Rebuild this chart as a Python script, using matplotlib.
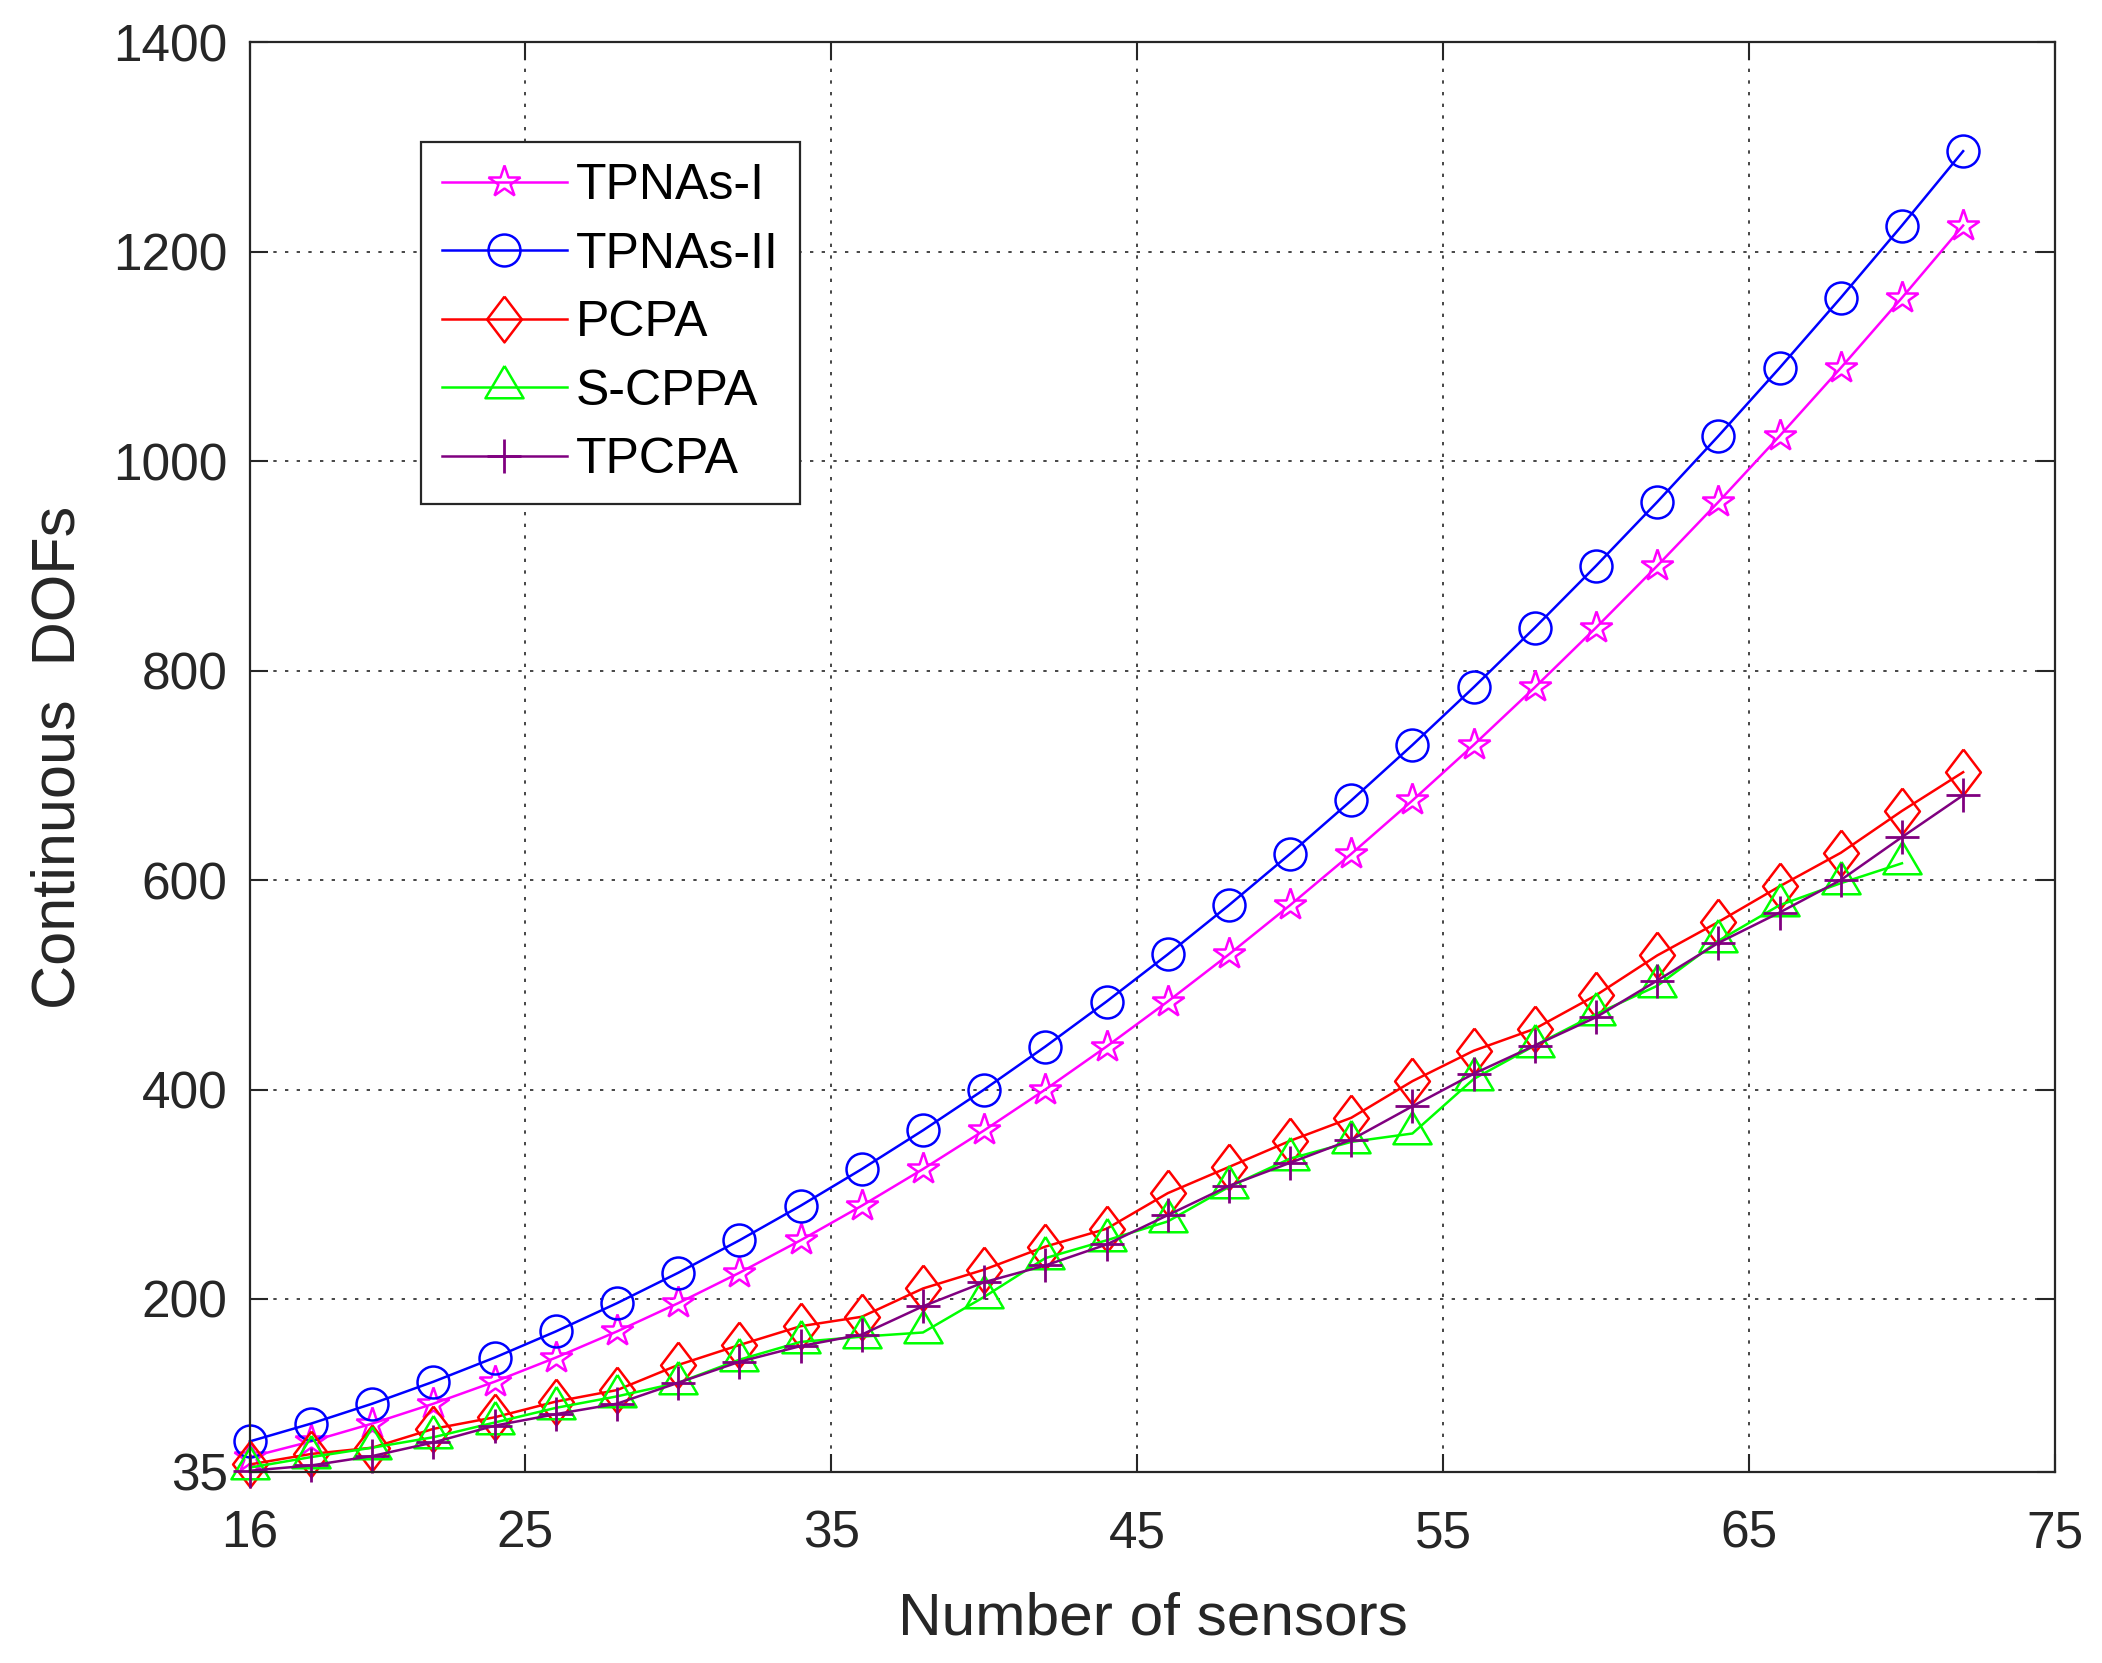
import matplotlib
matplotlib.use('Agg')
import matplotlib.pyplot as plt

plt.rcParams['font.family'] = ['Liberation Sans', 'DejaVu Sans']

# number of sensors
sensors = [16, 18, 20, 22, 24, 26, 28, 30, 32, 34, 36, 38, 40, 42, 44,
           46, 48, 50, 52, 54, 56, 58, 60, 62, 64, 66, 68, 70, 72]
sensors_scppa = sensors[:-1]

tpnas_1 = [49, 64, 81, 100, 121, 144, 169, 196, 225, 256, 289, 324, 361, 400, 441,
           484, 529, 576, 625, 676, 729, 784, 841, 900, 961, 1024, 1089, 1156, 1225]
tpnas_2 = [64, 81, 100, 121, 144, 169, 196, 225, 256, 289, 324, 361, 400, 441, 484,
           529, 576, 625, 676, 729, 784, 841, 900, 961, 1024, 1089, 1156, 1225, 1296]
pcpa = [42, 52, 58, 76, 87, 102, 113, 137, 156, 174, 183, 210, 228, 250, 267,
        301, 326, 351, 373, 408, 437, 458, 490, 528, 560, 594, 626, 666, 703]
scppa = [39, 49, 58, 68, 82, 96, 107, 120, 142, 159, 164, 168, 202, 239, 256,
         274, 307, 334, 350, 358, 410, 442, 472, 499, 542, 576, 597, 616]
tpcpa = [36, 41, 50, 63, 79, 90, 100, 120, 140, 155, 166, 193, 216, 232, 252,
         280, 308, 330, 352, 384, 415, 442, 469, 504, 540, 569, 600, 641, 681]

xticks = [16, 25, 35, 45, 55, 65, 75]
yticks = [35, 200, 400, 600, 800, 1000, 1200, 1400]

# matlab-like tall diamond and triangle centred on its centroid
diamond = [(0, 1), (0.76, 0), (0, -1), (-0.76, 0), (0, 1)]
triangle = [(0, 1.333), (-1.18, -0.667), (1.18, -0.667), (0, 1.333)]

txt = '#262626'
fig = plt.figure(figsize=(21.02, 16.63), dpi=100)
ax = fig.add_axes([0.1189, 0.1150, 0.9776 - 0.1189, 0.9746 - 0.1150])

lw = 1.8
mew = 1.8
ax.plot(sensors, tpnas_1, color=(1, 0, 1), lw=lw, marker='*', ms=24,
        mfc='none', mew=mew, label='TPNAs-I', clip_on=False)
ax.plot(sensors, tpnas_2, color=(0, 0, 1), lw=lw, marker='o', ms=23,
        mfc='none', mew=mew, label='TPNAs-II', clip_on=False)
ax.plot(sensors, pcpa, color=(1, 0, 0), lw=lw, marker=diamond, ms=33,
        mfc='none', mew=mew, label='PCPA', clip_on=False)
ax.plot(sensors_scppa, scppa, color=(0, 1, 0), lw=lw, marker=triangle, ms=31,
        mfc='none', mew=mew, label='S-CPPA', clip_on=False)
ax.plot(sensors, tpcpa, color=(0.5, 0, 0.5), lw=lw, marker='+', ms=25,
        mew=2.0, label='TPCPA', clip_on=False)

ax.set_xlim(16, 75)
ax.set_ylim(35, 1400)
ax.set_xticks(xticks)
ax.set_yticks(yticks)
ax.tick_params(direction='in', top=True, right=True, length=13, width=1.5,
               labelsize=37, colors=txt)
ax.tick_params(axis='x', pad=27)
ax.tick_params(axis='y', pad=16)
for s in ax.spines.values():
    s.set_linewidth(1.6)
    s.set_color(txt)

ax.grid(True, color=txt, linestyle=(0, (2, 5)), linewidth=1.2)
ax.set_axisbelow(True)

ax.set_xlabel('Number of sensors', fontsize=43.5, color=txt)
ax.set_ylabel('Continuous  DOFs', fontsize=44, color=txt)
ax.xaxis.set_label_coords(0.5, -0.084)
ax.yaxis.set_label_coords(-0.09, 0.5)

leg = ax.legend(loc='upper left', bbox_to_anchor=(0.0947, 0.930), borderaxespad=0,
                fontsize=36, fancybox=False, edgecolor=txt, framealpha=1,
                handlelength=2.5, handletextpad=0.18, labelspacing=0.45,
                borderpad=0.42, numpoints=1)
leg.get_frame().set_linewidth(1.6)
for t in leg.get_texts():
    t.set_color('black')

fig.savefig('out.png', dpi=100)
